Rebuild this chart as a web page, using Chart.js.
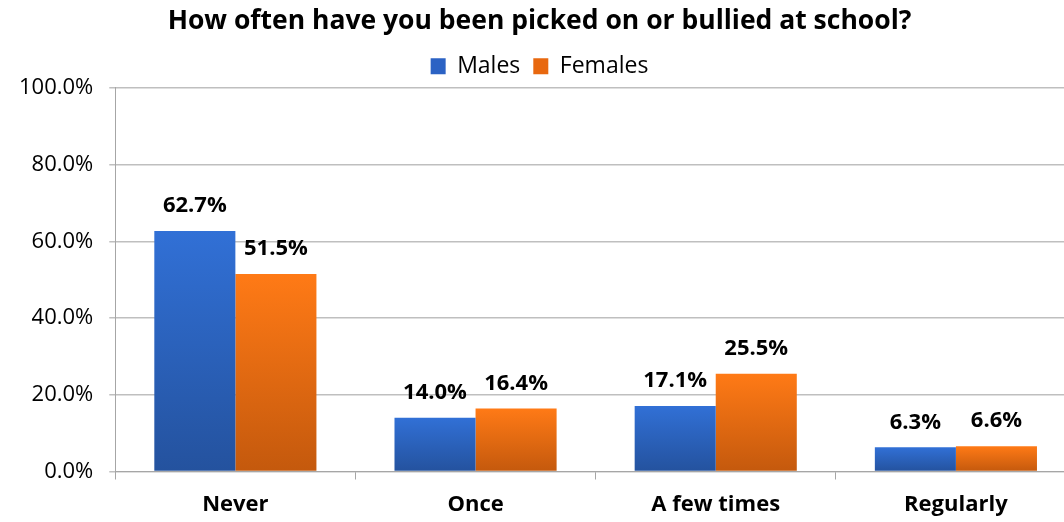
<!DOCTYPE html>
<html>
<head>
<meta charset="utf-8">
<script src="https://cdn.jsdelivr.net/npm/chart.js@4"></script>
<style>
  html, body { margin: 0; padding: 0; background: #fff; overflow: hidden; }
  #wrap { width: 1076px; height: 522px; }
</style>
</head>
<body>
<div id="wrap"><canvas id="myChart" width="1076" height="522"></canvas></div>
<script>
const categories = ['Never', 'Once', 'A few times', 'Regularly'];
const males = [62.7, 14.0, 17.1, 6.3];
const females = [51.5, 16.4, 25.5, 6.6];
const yTicks = [0, 20, 40, 60, 80, 100];

const FONT = "'Open Sans', 'Liberation Sans', sans-serif";

// per-bar vertical gradient, light at the top, dark at the base
function grad(ctx, top, bottom) {
  const chart = ctx.chart;
  const y = chart.scales && chart.scales.y;
  if (!y || ctx.raw === undefined || !chart.chartArea) return top;
  const y0 = y.getPixelForValue(ctx.raw);
  const y1 = y.getPixelForValue(0);
  if (!isFinite(y0) || !isFinite(y1) || y0 === y1) return top;
  const g = chart.ctx.createLinearGradient(0, y0, 0, y1);
  g.addColorStop(0, top);
  g.addColorStop(1, bottom);
  return g;
}

// draws the value above each bar
const valueLabels = {
  id: 'valueLabels',
  afterDatasetsDraw(chart) {
    const c = chart.ctx;
    c.save();
    c.font = 'bold 22px ' + FONT;
    c.fillStyle = '#000';
    c.textAlign = 'center';
    c.textBaseline = 'middle';
    chart.data.datasets.forEach((ds, i) => {
      chart.getDatasetMeta(i).data.forEach((bar, j) => {
        c.fillText(ds.data[j].toFixed(1) + '%', bar.x, bar.y - 25);
      });
    });
    c.restore();
  }
};

const ctx = document.getElementById('myChart');

new Chart(ctx, {
  type: 'bar',
  data: {
    labels: categories,
    datasets: [
      {
        label: 'Males',
        data: males,
        backgroundColor: (c) => grad(c, '#3170D6', '#24529E'),
        borderWidth: 0
      },
      {
        label: 'Females',
        data: females,
        backgroundColor: (c) => grad(c, '#FF7A16', '#C4590D'),
        borderWidth: 0
      }
    ]
  },
  options: {
    responsive: false,
    animation: false,
    layout: { padding: { top: 0, left: 3, right: 0, bottom: -8 } },
    categoryPercentage: 0.675,
    barPercentage: 1.0,
    plugins: {
      title: {
        display: true,
        text: 'How often have you been picked on or bullied at school?',
        color: '#000',
        font: { family: FONT, size: 26.5, weight: 'bold' },
        padding: { top: 6, bottom: 4 }
      },
      legend: {
        display: true,
        labels: {
          color: '#000',
          font: { family: FONT, size: 23 },
          boxWidth: 15,
          boxHeight: 16,
          padding: 13,
          generateLabels(chart) {
            return [
              { text: 'Males', fillStyle: '#2B62C4', strokeStyle: '#2B62C4', lineWidth: 0, datasetIndex: 0 },
              { text: 'Females', fillStyle: '#E8680F', strokeStyle: '#E8680F', lineWidth: 0, datasetIndex: 1 }
            ];
          }
        }
      },
      tooltip: { enabled: false }
    },
    scales: {
      x: {
        offset: true,
        grid: {
          display: true,
          offset: true,
          drawOnChartArea: false,
          drawTicks: true,
          tickLength: 8,
          color: '#A6A6A6'
        },
        border: { display: true, color: '#A6A6A6', width: 1 },
        ticks: {
          color: '#000',
          font: { family: FONT, size: 22, weight: 'bold', lineHeight: 0.75 },
          padding: 17
        }
      },
      y: {
        min: 0,
        max: 100,
        afterBuildTicks(axis) {
          axis.ticks = yTicks.map(v => ({ value: v }));
        },
        grid: {
          color: '#BFBFBF',
          lineWidth: 1.5,
          tickLength: 6
        },
        border: { display: true, color: '#A6A6A6', width: 1 },
        ticks: {
          color: '#000',
          font: { family: FONT, size: 22 },
          padding: 16,
          callback: (v) => v.toFixed(1) + '%'
        }
      }
    }
  },
  plugins: [valueLabels]
});
</script>
</body>
</html>
